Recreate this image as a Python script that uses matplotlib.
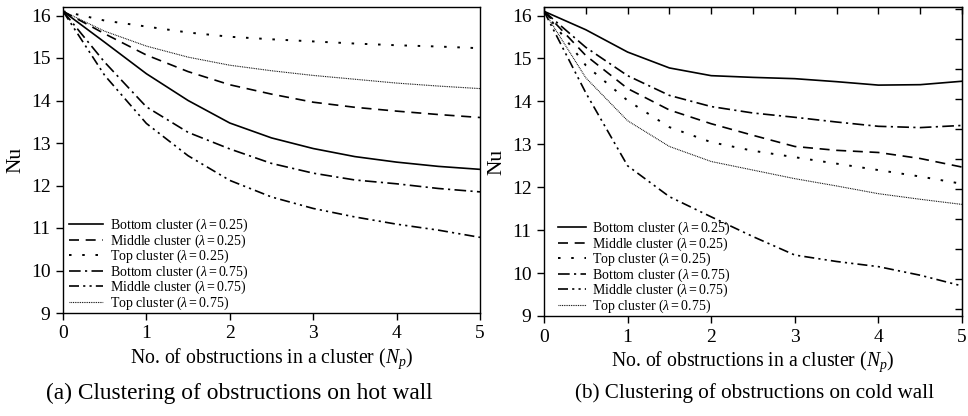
import numpy as np
import matplotlib
matplotlib.use("Agg")
import matplotlib.pyplot as plt

plt.rcParams['font.family'] = ['Liberation Serif', 'DejaVu Serif']
plt.rcParams['mathtext.fontset'] = 'custom'
plt.rcParams['mathtext.rm'] = 'Liberation Serif'
plt.rcParams['mathtext.it'] = 'Liberation Serif:italic'

# ---------------- data ----------------
x_pts = [0, 0.5, 1, 1.5, 2, 2.5, 3, 3.5, 4, 4.5, 5]

# (a) hot wall
hot_bottom_025 = [16.1, 15.37, 14.63, 14.0, 13.47, 13.12, 12.87, 12.68, 12.55, 12.45, 12.38]
hot_middle_025 = [16.1, 15.57, 15.07, 14.68, 14.37, 14.15, 13.96, 13.84, 13.75, 13.67, 13.6]
hot_top_025 = [16.1, 15.88, 15.74, 15.6, 15.5, 15.44, 15.39, 15.34, 15.3, 15.27, 15.23]
hot_bottom_075 = [16.1, 14.9, 13.85, 13.25, 12.86, 12.52, 12.29, 12.13, 12.04, 11.93, 11.85]
hot_middle_075 = [16.1, 14.59, 13.46, 12.7, 12.12, 11.73, 11.46, 11.26, 11.09, 10.95, 10.78]
hot_top_075 = [16.1, 15.63, 15.28, 15.02, 14.83, 14.7, 14.59, 14.5, 14.41, 14.34, 14.28]

# (b) cold wall
cold_bottom_025 = [16.1, 15.67, 15.15, 14.78, 14.6, 14.56, 14.53, 14.46, 14.38, 14.39, 14.47]
cold_middle_025 = [16.1, 15.07, 14.3, 13.8, 13.48, 13.21, 12.95, 12.86, 12.81, 12.67, 12.47]
cold_top_025 = [16.1, 14.84, 14.02, 13.4, 13.05, 12.85, 12.7, 12.55, 12.4, 12.25, 12.08]
cold_bottom_075 = [16.1, 15.26, 14.6, 14.14, 13.88, 13.73, 13.63, 13.52, 13.42, 13.39, 13.44]
cold_middle_075 = [16.1, 14.2, 12.5, 11.78, 11.31, 10.85, 10.42, 10.27, 10.15, 9.95, 9.7]
cold_top_075 = [16.1, 14.55, 13.55, 12.95, 12.6, 12.4, 12.2, 12.03, 11.85, 11.72, 11.6]

labels = [r'Bottom cluster ($\lambda = 0.25$)',
          r'Middle cluster ($\lambda = 0.25$)',
          r'Top cluster ($\lambda = 0.25$)',
          r'Bottom cluster ($\lambda = 0.75$)',
          r'Middle cluster ($\lambda = 0.75$)',
          r'Top cluster ($\lambda = 0.75$)']

x_ticks = [0, 1, 2, 3, 4, 5]
y_ticks = [9, 10, 11, 12, 13, 14, 15, 16]
xlabel = r'No. of obstructions in a cluster ($N_p$)'
ylabel = 'Nu'
captions = ['(a) Clustering of obstructions on hot wall',
            '(b) Clustering of obstructions on cold wall']

styles = [
    dict(ls='-', lw=1.2),
    dict(ls=(0, (6, 4)), lw=1.2),
    dict(ls=(0, (1.3, 5.5)), lw=1.4),
    dict(ls=(0, (7, 2.6, 1.3, 2.6)), lw=1.2),
    dict(ls=(0, (6, 2.5, 1.3, 2.5, 1.3, 2.5)), lw=1.2),
    dict(ls=(0, (0.8, 0.8)), lw=0.8),
]

fig = plt.figure(figsize=(9.68, 4.16), dpi=100)
W, H = 968, 416

def make_ax(l, r, t, b):
    return fig.add_axes([l / W, (H - b) / H, (r - l) / W, (b - t) / H])

axA = make_ax(63, 480, 7, 313)
axB = make_ax(544, 962, 7, 316)

hot = [hot_bottom_025, hot_middle_025, hot_top_025, hot_bottom_075, hot_middle_075, hot_top_075]
cold = [cold_bottom_025, cold_middle_025, cold_top_025, cold_bottom_075, cold_middle_075, cold_top_075]

panels = [(axA, hot, captions[0], 239, 16.8, (0.0, -0.014), 2.5),
          (axB, cold, captions[1], 755, 15.2, (0.02, -0.014), 2.0)]

for ax, series, cap, capx, capfs, anchor, hl in panels:
    for ys, st, lab in zip(series, styles, labels):
        ax.plot(x_pts, ys, color='black', label=lab, dash_capstyle='butt', **st)
    ax.set_xlim(0, 5)
    ax.set_ylim(9, 16.2)
    ax.set_xticks(x_ticks)
    ax.set_yticks(y_ticks)
    ax.tick_params(direction='out', length=5, width=1, labelsize=14, pad=4, colors='black')
    for s in ax.spines.values():
        s.set_linewidth(1.0)
    ax.set_xlabel(xlabel, fontsize=14.2, labelpad=3)
    ax.set_ylabel(ylabel, fontsize=15.5, labelpad=4)
    ax.legend(loc='lower left', bbox_to_anchor=anchor, frameon=False,
              fontsize=10.0, handlelength=hl, handletextpad=0.45,
              labelspacing=-0.13, borderaxespad=0.2, borderpad=0.2)
    fig.text(capx / W, (H - 393) / H, cap, ha='center', va='center', fontsize=capfs)

# inward ticks on top and right of panel (b)
top = axB.secondary_xaxis('top')
top.set_xticks(np.arange(0, 5.01, 0.5))
top.tick_params(direction='in', length=5, width=1)
top.set_xticklabels([])
right = axB.secondary_yaxis('right')
right.set_yticks(np.arange(9.16, 16.2, 0.7))
right.tick_params(direction='in', length=5, width=1)
right.set_yticklabels([])

fig.savefig('out.png', dpi=100)
